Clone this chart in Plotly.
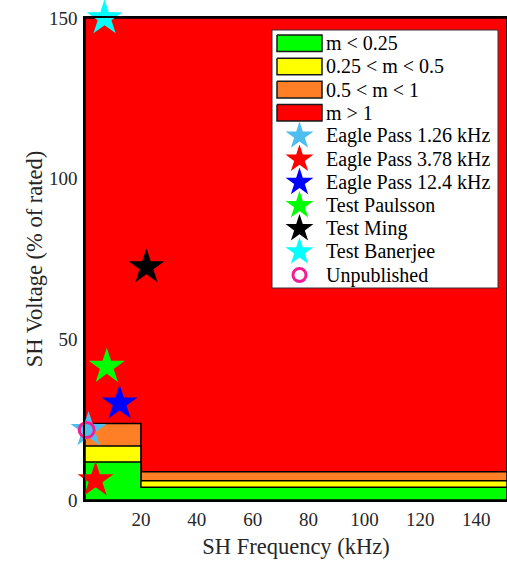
import plotly.graph_objects as go

# ---- data ----
x_end = 151            # axis runs a little past 150 (image is cropped at the right)
y_max = 150
x_step = 20
region_names = ["m < 0.25", "0.25 < m < 0.5", "0.5 < m < 1", "m > 1"]
region_colors = ["#00FF00", "#FFFF00", "#FF7F27", "#FF0000"]
region_low = [11.8, 16.8, 23.8, 150]     # upper limit below 20 kHz
region_high = [4.0, 6.0, 8.8, 150]       # upper limit above 20 kHz

point_names = ["Eagle Pass 1.26 kHz", "Eagle Pass 3.78 kHz", "Eagle Pass 12.4 kHz",
               "Test Paulsson", "Test Ming", "Test Banerjee"]
point_x = [1.26, 3.78, 12.4, 7.8, 22.0, 7.0]
point_y = [21.8, 6.2, 30.1, 41.5, 72.5, 150.0]
point_colors = ["#4DBEEE", "#FF0000", "#0000FF", "#00FF00", "#000000", "#00FFFF"]

unpub_name = "Unpublished"
unpub_x = [0.6]
unpub_y = [21.8]
unpub_color = "#F21E96"

x_ticks = [20, 40, 60, 80, 100, 120, 140]
y_ticks = [0, 50, 100, 150]

FONT = "Liberation Serif"
W, H = 507, 562
ML, MR, MT, MB = 85, 0, 18, 62

fig = go.Figure()

# regions: drawn largest first so smaller ones sit on top
for name, col, lo, hi in reversed(list(zip(region_names, region_colors, region_low, region_high))):
    xs = [0, 0, x_step, x_step, x_end, x_end, 0]
    ys = [0, lo, lo, hi, hi, 0, 0]
    fig.add_trace(go.Scatter(
        x=xs, y=ys, mode="lines", fill="toself", fillcolor=col,
        line=dict(color="black", width=1.5), name=name, showlegend=False,
        hoverinfo="skip"))

for name, x, y, col in zip(point_names, point_x, point_y, point_colors):
    fig.add_trace(go.Scatter(
        x=[x], y=[y], mode="markers", name=name, showlegend=False,
        marker=dict(symbol="star", size=27, color=col, line=dict(width=0)),
        cliponaxis=False))

fig.add_trace(go.Scatter(
    x=unpub_x, y=unpub_y, mode="markers", name=unpub_name, showlegend=False,
    marker=dict(symbol="circle-open", size=15, color=unpub_color, line=dict(width=3)),
    cliponaxis=False))

# ---- legend (drawn on an overlay axis measured in page pixels) ----
LEG_BOX = (272, 498, 30, 288)   # left, right, top, bottom
LEG_ROW0, LEG_DY = 43.3, 23.17
LEG_RECT = (277, 322, 8.3)
LEG_SYM_X = 299.5
LEG_TEXT_X = 324

def row_y(i):
    return LEG_ROW0 + LEG_DY * i

bx0, bx1, by0, by1 = LEG_BOX
fig.add_trace(go.Scatter(
    x=[bx0, bx1, bx1, bx0, bx0], y=[by0, by0, by1, by1, by0], xaxis="x2", yaxis="y2",
    mode="lines", fill="toself", fillcolor="white", line=dict(color="#333333", width=1),
    showlegend=False, hoverinfo="skip"))

labels = list(region_names) + point_names + [unpub_name]
for i, (name, col) in enumerate(zip(region_names, region_colors)):
    ry = row_y(i)
    rx0, rx1, hh = LEG_RECT
    fig.add_trace(go.Scatter(
        x=[rx0, rx1, rx1, rx0, rx0], y=[ry - hh, ry - hh, ry + hh, ry + hh, ry - hh],
        xaxis="x2", yaxis="y2", mode="lines", fill="toself", fillcolor=col,
        line=dict(color="#1a1a1a", width=1.5), showlegend=False, hoverinfo="skip"))

for j, col in enumerate(point_colors):
    fig.add_trace(go.Scatter(
        x=[LEG_SYM_X], y=[row_y(4 + j)], xaxis="x2", yaxis="y2", mode="markers",
        marker=dict(symbol="star", size=21, color=col, line=dict(width=0)),
        showlegend=False, hoverinfo="skip"))
fig.add_trace(go.Scatter(
    x=[LEG_SYM_X], y=[row_y(10)], xaxis="x2", yaxis="y2", mode="markers",
    marker=dict(symbol="circle-open", size=13, color=unpub_color, line=dict(width=3)),
    showlegend=False, hoverinfo="skip"))

annotations = []
for i, lab in enumerate(labels):
    annotations.append(dict(
        x=LEG_TEXT_X, y=row_y(i), xref="x2", yref="y2", text=lab, showarrow=False,
        xanchor="left", yanchor="middle", font=dict(family=FONT, size=20, color="black")))

fig.update_layout(
    width=W, height=H,
    margin=dict(l=ML, r=MR, t=MT, b=MB),
    plot_bgcolor="white", paper_bgcolor="white",
    font=dict(family=FONT, size=19, color="#262626"),
    showlegend=False,
    annotations=annotations,
    xaxis2=dict(overlaying="x", range=[ML, W - MR], visible=False, fixedrange=True),
    yaxis2=dict(overlaying="y", range=[H - MB, MT], visible=False, fixedrange=True),
)
fig.update_layout(xaxis=dict(
    range=[0, x_end], tickvals=x_ticks, ticktext=[str(v) for v in x_ticks],
    showgrid=False, zeroline=False, showline=True, linecolor="black", linewidth=1.5,
    mirror=True, ticks="", automargin=False, ticklabelstandoff=1,
    title=dict(text="SH Frequency (kHz)", standoff=10, font=dict(size=22.5)),
))
fig.update_layout(yaxis=dict(
    range=[0, y_max], tickvals=y_ticks, ticktext=[str(v) for v in y_ticks],
    showgrid=False, zeroline=False, showline=True, linecolor="black", linewidth=1.5,
    mirror=False, ticks="", automargin=False, ticklabelstandoff=2,
    title=dict(text="SH Voltage (% of rated)", standoff=0, font=dict(size=22.5)),
))

fig.write_html(
    "out.html",
    config={"displayModeBar": False},
    post_script="document.body.style.margin='0';document.body.style.overflow='hidden';",
)
